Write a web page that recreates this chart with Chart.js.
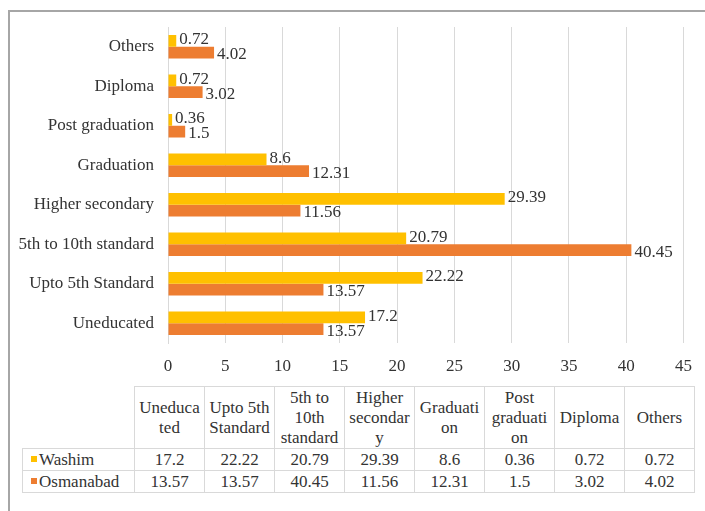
<!DOCTYPE html>
<html><head><meta charset="utf-8">
<script src="https://cdn.jsdelivr.net/npm/chart.js"></script>
<style>
body{margin:0;background:#fff;width:705px;height:511px;overflow:hidden;position:relative;font-family:"Times New Roman",Times,"Liberation Serif","DejaVu Serif","Noto Serif",serif;}
#frame{position:absolute;left:8px;top:10px;width:720px;height:520px;border-left:2px solid #a6a6a6;border-top:2px solid #a6a6a6;}
#c{position:absolute;left:0;top:0;}
table{position:absolute;left:22px;top:386px;border-collapse:collapse;font-size:17px;color:#333;table-layout:fixed;width:672px;font-family:inherit;}
td{border:1px solid #d9d9d9;text-align:center;padding:0;white-space:pre;}
tr.h td{height:61px;line-height:20px;vertical-align:middle;}
tr.h td.blank{border:none;}
tr.d td{height:21px;line-height:21px;}
td.leg{text-align:left;padding-left:8px;}
.sw{display:inline-block;width:6px;height:6px;margin-right:2px;vertical-align:middle;position:relative;top:-2px;}
</style>
</head><body>
<div id="frame"></div>
<canvas id="c" width="705" height="383"></canvas>
<table id="t"></table>
<script>
const categories = ["Uneducated","Upto 5th Standard","5th to 10th standard","Higher secondary","Graduation","Post graduation","Diploma","Others"];
const tableHeaders = ["Uneduca\nted","Upto 5th\nStandard","5th to\n10th\nstandard","Higher\nsecondar\ny","Graduati\non","Post\ngraduati\non","Diploma","Others"];
const seriesNames = ["Washim","Osmanabad"];
const washim = [17.2,22.22,20.79,29.39,8.6,0.36,0.72,0.72];
const osmanabad = [13.57,13.57,40.45,11.56,12.31,1.5,3.02,4.02];
const xMin = 0, xMax = 45, xStep = 5;
const colors = ["#FFC000","#ED7D31"];
const FONT = '"Times New Roman", Times, "Liberation Serif", "DejaVu Serif", serif';
const TXT = '#333333';

const seriesData = [washim, osmanabad];

const labelPlugin = {
  id:'barLabels',
  afterDatasetsDraw(chart){
    const ctx = chart.ctx;
    ctx.save();
    ctx.font = '17px ' + FONT;
    ctx.fillStyle = TXT;
    ctx.textAlign = 'left';
    ctx.textBaseline = 'middle';
    chart.data.datasets.forEach((ds,i)=>{
      chart.getDatasetMeta(i).data.forEach((bar,j)=>{
        ctx.fillText(String(ds.data[j]), bar.x + 3, bar.y + (i===0 ? -1 : 2));
      });
    });
    ctx.restore();
  }
};

Chart.defaults.font.family = FONT;

new Chart(document.getElementById('c'), {
  type:'bar',
  data:{
    labels: categories,
    datasets: seriesNames.map((n,i)=>({
      label:n, data:seriesData[i], backgroundColor:colors[i], borderWidth:0,
      categoryPercentage:0.6, barPercentage:1
    }))
  },
  options:{
    indexAxis:'y',
    responsive:false,
    animation:false,
    devicePixelRatio:1,
    layout:{padding:{left:0,right:17,top:27,bottom:0}},
    plugins:{legend:{display:false},tooltip:{enabled:false}},
    scales:{
      y:{
        reverse:true,
        grid:{display:false,drawTicks:false},
        border:{display:true,color:'#d9d9d9'},
        ticks:{font:{family:FONT,size:17},color:TXT,padding:14},
        afterFit(s){ s.width = 168; }
      },
      x:{
        min:xMin,max:xMax,
        grid:{color:'#d9d9d9',drawTicks:false},
        border:{display:false},
        ticks:{stepSize:xStep,font:{family:FONT,size:17},color:TXT,padding:13},
        afterFit(s){ s.height = 40; }
      }
    }
  },
  plugins:[labelPlugin]
});

// data table
const t = document.getElementById('t');
let html = '<colgroup><col style="width:112px">' + categories.map(()=>'<col style="width:70px">').join('') + '</colgroup>';
html += '<tr class="h"><td class="blank"></td>' + tableHeaders.map(h=>'<td>'+h+'</td>').join('') + '</tr>';
seriesNames.forEach((n,i)=>{
  html += '<tr class="d"><td class="leg"><span class="sw" style="background:'+colors[i]+'"></span>'+n+'</td>' +
    seriesData[i].map(v=>'<td>'+String(v)+'</td>').join('') + '</tr>';
});
t.innerHTML = html;
</script>
</body></html>
